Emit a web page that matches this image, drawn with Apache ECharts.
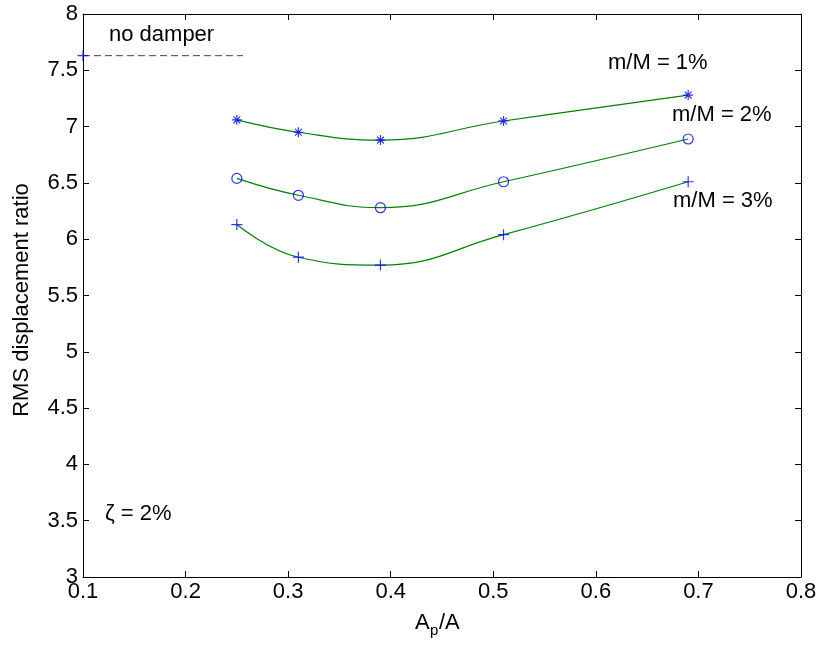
<!DOCTYPE html>
<html>
<head>
<meta charset="utf-8">
<script src="https://cdn.jsdelivr.net/npm/echarts@6/dist/echarts.min.js"></script>
<style>
  html, body { margin: 0; padding: 0; background: #fff; }
  #chart { width: 822px; height: 647px; }
</style>
</head>
<body>
<div id="chart"></div>
<script>
// Area ratio Ap/A at which each damper configuration was evaluated
const apRatio = [0.25, 0.31, 0.39, 0.51, 0.69];
// RMS displacement ratio for each mass ratio m/M
const rmsMass1 = [7.06, 6.95, 6.88, 7.05, 7.28];
const rmsMass2 = [6.54, 6.39, 6.28, 6.51, 6.89];
const rmsMass3 = [6.13, 5.84, 5.77, 6.04, 6.51];
// Undamped reference level and the span of its dashed guide
const noDamperRms = 7.63;
const noDamperSpan = [0.1, 0.256];

const FONT = '"Liberation Sans", Arial, Helvetica, sans-serif';
const BLUE = '#0000ff';
const GREEN = '#008000';

const starPath = 'path://M5,0V10M0,5H10M1.6,1.6L8.4,8.4M8.4,1.6L1.6,8.4';
const plusPath = 'path://M5,0V10M0,5H10';

const zip = (xs, ys) => xs.map((x, i) => [x, ys[i]]);

const chart = echarts.init(document.getElementById('chart'), null, { renderer: 'canvas' });

const axisCommon = {
  axisLine: { show: true, onZero: false, lineStyle: { color: '#000', width: 1 } },
  axisTick: { show: true, inside: true, length: 6, lineStyle: { color: '#000', width: 1 } },
  splitLine: { show: false },
  axisLabel: { color: '#000', fontSize: 22, fontFamily: FONT }
};

function curve(ys) {
  return {
    type: 'line', data: zip(apRatio, ys), smooth: 0.45, showSymbol: false, symbol: 'none',
    lineStyle: { color: GREEN, width: 1.2 }, z: 2, silent: true
  };
}
function markers(ys, symbol, size) {
  return {
    type: 'scatter', data: zip(apRatio, ys), symbol: symbol, symbolSize: size,
    itemStyle: { color: 'transparent', borderColor: BLUE, borderWidth: 1.2 }, z: 3, clip: false, silent: true
  };
}

chart.setOption({
  animation: false,
  backgroundColor: '#fff',
  grid: { left: 83, right: 21, top: 14, bottom: 70, containLabel: false },
  xAxis: [
    Object.assign({}, axisCommon, {
      type: 'value', min: 0.1, max: 0.8, interval: 0.1, position: 'bottom',
      axisLabel: Object.assign({}, axisCommon.axisLabel, { margin: 4, formatter: v => (+v.toFixed(1)).toString() })
    }),
    Object.assign({}, axisCommon, {
      type: 'value', min: 0.1, max: 0.8, interval: 0.1, position: 'top',
      axisLabel: { show: false }
    })
  ],
  yAxis: [
    Object.assign({}, axisCommon, {
      type: 'value', min: 3, max: 8, interval: 0.5, position: 'left',
      axisLabel: Object.assign({}, axisCommon.axisLabel, { margin: 5, formatter: v => (+v.toFixed(1)).toString() })
    }),
    Object.assign({}, axisCommon, {
      type: 'value', min: 3, max: 8, interval: 0.5, position: 'right',
      axisLabel: { show: false }
    })
  ],
  series: [
    curve(rmsMass1),
    curve(rmsMass2),
    curve(rmsMass3),
    markers(rmsMass1, starPath, 10),
    markers(rmsMass2, 'circle', 10),
    markers(rmsMass3, plusPath, 11),
    {
      type: 'line', data: noDamperSpan.map(x => [x, noDamperRms]), showSymbol: false, symbol: 'none',
      lineStyle: { color: '#444', width: 1, type: [7, 4] }, z: 2, silent: true
    },
    {
      type: 'scatter', data: [[noDamperSpan[0], noDamperRms]], symbol: plusPath, symbolSize: 11,
      itemStyle: { color: 'transparent', borderColor: BLUE, borderWidth: 1.2 }, z: 4, clip: false, silent: true
    }
  ],
  graphic: [
    { type: 'text', x: 109, y: 35, style: { text: 'no damper', fill: '#000', font: '22px ' + FONT, verticalAlign: 'middle', align: 'left' } },
    { type: 'text', x: 608, y: 62.5, style: { text: 'm/M = 1%', fill: '#000', font: '22px ' + FONT, verticalAlign: 'middle', align: 'left' } },
    { type: 'text', x: 672, y: 115, style: { text: 'm/M = 2%', fill: '#000', font: '22px ' + FONT, verticalAlign: 'middle', align: 'left' } },
    { type: 'text', x: 673, y: 200.5, style: { text: 'm/M = 3%', fill: '#000', font: '22px ' + FONT, verticalAlign: 'middle', align: 'left' } },
    { type: 'text', x: 105, y: 514, style: { text: 'ζ = 2%', fill: '#000', font: '22px ' + FONT, verticalAlign: 'middle', align: 'left' } },
    // y-axis title, rotated
    { type: 'text', x: 22, y: 300, rotation: Math.PI / 2,
      style: { text: 'RMS displacement ratio', fill: '#000', font: '22px ' + FONT, verticalAlign: 'middle', align: 'center' } },
    // x-axis title A_p/A with subscript p
    { type: 'text', x: 415, y: 622.5, style: { text: 'A', fill: '#000', font: '22px ' + FONT, verticalAlign: 'middle', align: 'left' } },
    { type: 'text', x: 430, y: 631, style: { text: 'p', fill: '#000', font: '15px ' + FONT, verticalAlign: 'middle', align: 'left' } },
    { type: 'text', x: 439, y: 622.5, style: { text: '/A', fill: '#000', font: '22px ' + FONT, verticalAlign: 'middle', align: 'left' } }
  ]
});
</script>
</body>
</html>
